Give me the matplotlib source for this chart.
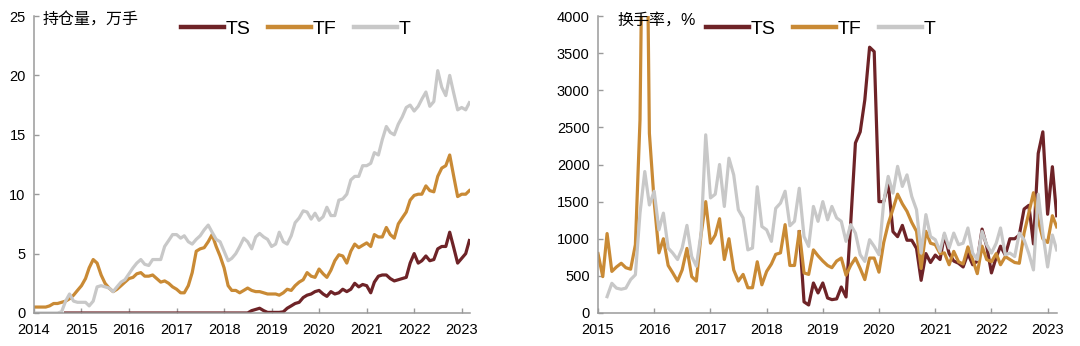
import numpy as np
import pandas as pd
import matplotlib
matplotlib.use("Agg")
from matplotlib import pyplot as plt
import matplotlib.dates as mdates

plt.rcParams['font.family'] = ['Liberation Sans', 'Noto Sans CJK SC', 'DejaVu Sans']

nan = np.nan

# 持仓量（万手），月度 2014-01 ~ 2023-03
oi_months = pd.date_range("2014-01-01", "2023-03-01", freq="MS")
ts_oi = [nan] * 8 + [0] * 4 + [0] * 36 + \
    [0, 0, 0, 0, 0, 0, 0, 0.2, 0.3, 0.4, 0.2, 0.05] + \
    [0.05, 0.05, 0.05, 0.1, 0.4, 0.6, 0.8, 0.9, 1.3, 1.5, 1.6, 1.8] + \
    [1.9, 1.6, 1.4, 1.8, 1.6, 1.7, 2.0, 1.8, 2.0, 2.5, 2.2, 2.4] + \
    [2.3, 1.7, 2.6, 3.1, 3.2, 3.2, 2.9, 2.7, 2.8, 2.9, 3.0, 4.2] + \
    [5.0, 4.2, 4.4, 4.8, 4.4, 4.5, 5.4, 5.6, 5.6, 6.8, 5.5, 4.2] + \
    [4.6, 5.0, 6.1]
tf_oi = [0.5, 0.5, 0.5, 0.5, 0.6, 0.8, 0.8, 0.9, 1.0, 1.2, 1.5, 1.9,
         2.3, 2.9, 3.8, 4.5, 4.2, 3.2, 2.5, 2.1, 1.8, 2.0, 2.3, 2.6,
         2.9, 3.0, 3.3, 3.4, 3.1, 3.1, 3.2, 2.9, 2.6, 2.7, 2.5, 2.2,
         2.0, 1.7, 1.7, 2.3, 3.4, 5.2, 5.4, 5.5, 6.0, 6.6, 5.6, 4.8,
         3.8, 2.3, 1.9, 1.9, 1.7, 1.9, 2.1, 1.9, 1.8, 1.8, 1.7, 1.6,
         1.6, 1.6, 1.5, 1.7, 2.0, 1.9, 2.3, 2.6, 2.8, 3.4, 3.1, 3.0,
         3.7, 3.3, 3.0, 3.6, 4.4, 4.9, 4.8, 4.2, 5.2, 5.8, 5.5, 5.7,
         5.9, 5.6, 6.6, 6.4, 6.4, 7.2, 6.6, 6.3, 7.5, 8.0, 8.5, 9.5,
         9.9, 10.0, 10.0, 10.7, 10.3, 10.2, 11.5, 12.2, 12.4, 13.3, 11.5, 9.8,
         10.0, 10.0, 10.3]
t_oi = [0, 0, 0, 0, 0, 0, 0, 0.1, 1.0, 1.6, 1.0, 0.9,
        0.9, 0.9, 0.6, 1.0, 2.2, 2.3, 2.2, 2.1, 1.8, 2.2, 2.6, 2.8,
        3.3, 3.8, 4.2, 4.5, 4.1, 4.0, 4.5, 4.5, 4.5, 5.6, 6.1, 6.6,
        6.6, 6.3, 6.5, 6.0, 5.8, 6.2, 6.5, 7.0, 7.4, 6.8, 6.2, 6.0,
        5.2, 4.4, 4.6, 5.0, 5.6, 6.3, 6.0, 5.4, 6.4, 6.7, 6.4, 6.2,
        5.6, 5.8, 6.8, 6.0, 5.8, 6.5, 7.6, 8.0, 8.6, 8.5, 7.9, 8.4,
        7.8, 8.1, 8.9, 8.2, 8.2, 9.5, 9.6, 10.0, 11.2, 11.5, 11.5, 12.4,
        12.4, 12.6, 13.5, 13.3, 14.6, 15.7, 15.2, 15.0, 15.9, 16.5, 17.3, 17.5,
        17.0, 17.4, 18.0, 18.6, 17.4, 17.8, 20.4, 19.0, 18.3, 20.0, 18.5, 17.1,
        17.3, 17.1, 17.7]

# 换手率（%），月度 2015-01 ~ 2023-03
to_months = pd.date_range("2015-01-01", "2023-03-01", freq="MS")
ts_to = [nan] * 43 + \
    [1095, 150, 108, 404, 270, 404, 202, 180, 190, 350, 216, 1200,
     2290, 2440, 2870, 3580, 3520, 1500, 1500, 1750, 1095, 1028, 1180, 980,
     980, 870, 440, 800, 680, 780, 720, 1050, 800, 700, 670, 620,
     800, 650, 700, 1130, 900, 540, 750, 900, 780, 1000, 1000, 1050,
     1400, 1450, 930, 2150, 2440, 1330, 1970, 1310]
tf_to = [800, 490, 1070, 560, 620, 670, 610, 590, 920, 2600, 8000, 2420,
         1500, 810, 1000, 640, 540, 430, 580, 870, 490, 430, 1060, 1500,
         940, 1050, 1270, 720, 1000, 580, 430, 520, 340, 340, 690, 380,
         560, 660, 790, 810, 1190, 640, 640, 1100, 540, 520, 850, 770,
         700, 640, 610, 700, 740, 510, 640, 740, 600, 450, 740, 740,
         550, 950, 1200, 1400, 1600, 1470, 1370, 1220, 1100, 600, 1100, 940,
         920, 800, 810, 650, 830, 690, 660, 890, 720, 530, 900, 720,
         690, 800, 650, 760, 720, 680, 670, 1076, 1350, 1620, 1250, 1000,
         950, 1310, 1160]
t_to = [nan, nan, 220, 400, 335, 320, 335, 450, 515, 1345, 1905, 1455,
        1640, 1120, 1345, 875, 807, 720, 875, 1180, 760, 630, 1076, 2400,
        1550, 1600, 2000, 1435, 2085, 1860, 1390, 1280, 850, 875, 1700, 1165,
        1120, 965, 1410, 1480, 1640, 1175, 1235, 1680, 1030, 897, 1435, 1235,
        1500, 1255, 1435, 1280, 1235, 965, 1190, 1076, 785, 695, 987, 897,
        785, 1500, 1840, 1615, 1975, 1705, 1860, 1570, 1390, 807, 1325, 1030,
        987, 830, 1076, 875, 1076, 920, 940, 1145, 807, 720, 1100, 920,
        807, 940, 1145, 785, 807, 760, 1076, 987, 800, 580, 1600, 1076,
        620, 1050, 850]

c_ts = "#6E2327"
c_tf = "#C98A35"
c_t = "#C8C8C8"
spine_c = "#9A9A9A"


def style_axis(ax):
    for s in ["top", "right"]:
        ax.spines[s].set_visible(False)
    for s in ["left", "bottom"]:
        ax.spines[s].set_color(spine_c)
        ax.spines[s].set_linewidth(1.1)
    ax.tick_params(axis="both", direction="in", length=3.5, width=1, color=spine_c,
                   labelsize=10.5, labelcolor="black")
    ax.tick_params(axis="y", pad=6)
    ax.tick_params(axis="x", pad=7)
    ax.xaxis.set_major_locator(mdates.YearLocator())
    ax.xaxis.set_major_formatter(mdates.DateFormatter("%Y"))


def add_legend(ax, xc):
    leg = ax.legend(ncol=3, frameon=False, fontsize=14, loc="center",
                    bbox_to_anchor=(xc, 0.955), handlelength=2.2,
                    handletextpad=0.1, columnspacing=0.9, borderaxespad=0)
    for h in leg.legend_handles:
        h.set_linewidth(3.2)


fig = plt.figure(figsize=(10.8, 3.46), dpi=100)

ax1 = fig.add_axes([34 / 1080, 1 - 313 / 346, 436 / 1080, 297 / 346])
ax1.plot(oi_months, ts_oi, color=c_ts, lw=2.3, label="TS")
ax1.plot(oi_months, tf_oi, color=c_tf, lw=2.3, label="TF")
ax1.plot(oi_months, t_oi, color=c_t, lw=2.3, label="T")
ax1.set_ylim(0, 25)
ax1.set_yticks(np.arange(0, 26, 5))
ax1.set_xlim(pd.Timestamp("2014-01-01"), pd.Timestamp("2023-03-06"))
style_axis(ax1)
ax1.text(0.02, 0.985, "持仓量，万手", transform=ax1.transAxes, fontsize=11.5,
         va="center", ha="left")
add_legend(ax1, 0.6)

ax2 = fig.add_axes([598 / 1080, 1 - 313 / 346, 459 / 1080, 297 / 346])
ax2.plot(to_months, ts_to, color=c_ts, lw=2.3, label="TS")
ax2.plot(to_months, tf_to, color=c_tf, lw=2.3, label="TF")
ax2.plot(to_months, t_to, color=c_t, lw=2.3, label="T")
ax2.set_ylim(0, 4000)
ax2.set_yticks(np.arange(0, 4001, 500))
ax2.set_xlim(pd.Timestamp("2015-01-01"), pd.Timestamp("2023-03-03"))
style_axis(ax2)
ax2.text(0.043, 0.985, "换手率，%", transform=ax2.transAxes, fontsize=11.5,
         va="center", ha="left", zorder=5)
add_legend(ax2, 0.485)

fig.savefig("out.png", dpi=100)
